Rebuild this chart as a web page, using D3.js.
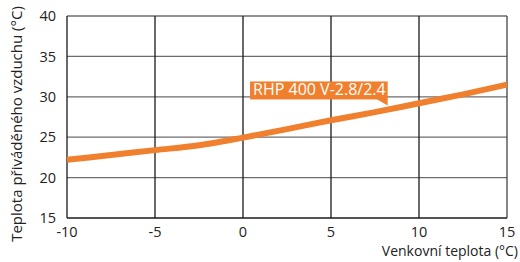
<!DOCTYPE html>
<html>
<head>
<meta charset="utf-8">
<script src="https://cdn.jsdelivr.net/npm/d3@7"></script>
<style>
  body { margin: 0; background: #fff; }
  svg { font-family: "Open Sans", sans-serif; }
</style>
</head>
<body>
<svg id="chart" width="520" height="262"></svg>
<script>
const xTicks = [-10, -5, 0, 5, 10, 15]
const yTicks = [15, 20, 25, 30, 35, 40]
const outdoor = [-10, -7.5, -5, -2.5, 0, 2.5, 5, 7.5, 10, 12.5, 15]
const supply = [22.2, 22.8, 23.4, 24.0, 24.95, 26.0, 27.1, 28.1, 29.2, 30.3, 31.5]
const seriesName = "RHP 400 V-2.8/2.4"

const m = {t: 16, b: 44, l: 67, r: 13}
const w = 520 - m.l - m.r
const h = 262 - m.t - m.b

const svg = d3.select("#chart")
const g = svg.append("g").attr("transform", `translate(${m.l},${m.t})`)

const x = d3.scaleLinear().domain([-10, 15]).range([0, w])
const y = d3.scaleLinear().domain([15, 40]).range([h, 0])

// grid
g.selectAll(".hgrid")
    .data(yTicks.filter(d => d > 15))
    .join("line")
    .attr("x1", 0).attr("x2", w)
    .attr("y1", d => y(d)).attr("y2", d => y(d))
    .attr("stroke", "#6d6d6d").attr("stroke-width", 1.3)

g.selectAll(".vgrid")
    .data(xTicks)
    .join("line")
    .attr("x1", d => x(d)).attr("x2", d => x(d))
    .attr("y1", 0).attr("y2", h)
    .attr("stroke", d => d == 15 ? "#444" : "#1a1a1a").attr("stroke-width", 1.3)

// bottom axis line
g.append("line")
    .attr("x1", 0).attr("x2", w)
    .attr("y1", h).attr("y2", h)
    .attr("stroke", "#1a1a1a").attr("stroke-width", 1.3)

// tick labels
g.selectAll(".ylab")
    .data(yTicks)
    .join("text")
    .attr("x", -11)
    .attr("y", d => y(d))
    .attr("dy", "0.36em")
    .attr("text-anchor", "end")
    .attr("font-size", 14.5)
    .attr("fill", "#222")
    .text(d => d)

g.selectAll(".xlab")
    .data(xTicks)
    .join("text")
    .attr("x", d => x(d))
    .attr("y", h + 19)
    .attr("text-anchor", "middle")
    .attr("font-size", 14.5)
    .attr("fill", "#222")
    .text(d => d)

// axis titles
svg.append("text")
    .attr("x", 518)
    .attr("y", 256)
    .attr("text-anchor", "end")
    .attr("font-size", 14)
    .attr("fill", "#222")
    .text("Venkovní teplota (°C)")

svg.append("text")
    .attr("transform", "translate(22,124) rotate(-90)")
    .attr("text-anchor", "middle")
    .attr("font-size", 15)
    .attr("fill", "#222")
    .text("Teplota přiváděného vzduchu (°C)")

// curve
const line = d3.line()
    .x((d, i) => x(outdoor[i]))
    .y(d => y(d))
    .curve(d3.curveMonotoneX)

g.append("path")
    .datum(supply)
    .attr("d", line)
    .attr("fill", "none")
    .attr("stroke", "#f07f2e")
    .attr("stroke-width", 6)

// label box with pointer
const lbl = g.append("g").attr("transform", `translate(${x(0.4)},${y(31.9)})`)
const txt = lbl.append("text")
    .attr("x", 3)
    .attr("y", 14)
    .attr("font-size", 16)
    .attr("fill", "#fff")
    .text(seriesName)
const bw = txt.node().getComputedTextLength() + 5
lbl.insert("rect", "text")
    .attr("width", bw).attr("height", 18)
    .attr("fill", "#f07f2e")
lbl.insert("path", "text")
    .attr("d", `M${bw - 12},17 L${bw},17 L${bw},24 Z`)
    .attr("fill", "#f07f2e")
</script>
</body>
</html>
